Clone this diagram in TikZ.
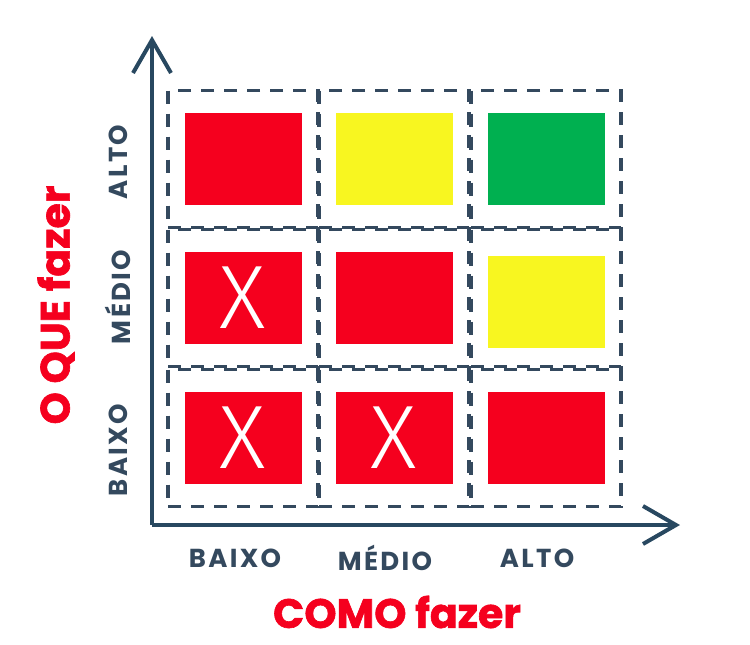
\documentclass[tikz,border=0pt]{standalone}
\usepackage{fontspec}
\setmainfont{Poppins}
\newfontfamily\ticksfont[LetterSpace=9]{Poppins}
\newfontfamily\titlefont[BoldFeatures={FakeBold=1.5}]{Poppins}
\newfontfamily\crossfont{Fira Sans Light}
\definecolor{GridGray}{RGB}{52,73,94}
\definecolor{AxisBlue}{RGB}{40,72,96}
\definecolor{TileRed}{RGB}{245,0,30}
\definecolor{TileYellow}{RGB}{248,246,32}
\definecolor{TileGreen}{RGB}{0,176,80}
\usetikzlibrary{arrows.meta,positioning}

\begin{document}
\begin{tikzpicture}[
    x=1pt, y=-1pt,
    cell/.style={rectangle, draw=GridGray, line width=3.5pt, dash pattern=on 13pt off 10pt, minimum width=150pt, minimum height=137pt, inner sep=0pt},
    tile/.style={rectangle, fill=#1, minimum width=117pt, minimum height=92pt, inner sep=0pt},
    cross/.style={text=white, font=\crossfont\fontsize{90}{90}\selectfont, inner sep=0pt},
    axis/.style={draw=AxisBlue, line width=4pt, -{Straight Barb[length=33pt,width=38pt]}},
    tick/.style={text=GridGray, font=\ticksfont\bfseries\fontsize{26}{26}\selectfont},
    title/.style={text=TileRed, font=\titlefont\bfseries\fontsize{41}{41}\selectfont}
]
    \useasboundingbox (0,0) rectangle (750,645);
    % dashed grid
    \foreach \r/\y in {1/159, 2/298, 3/438}
        \foreach \c/\x in {1/243, 2/394, 3/546}
            \node[cell] (c\r\c) at (\x,\y) {};
    % coloured tiles
    \node[tile=TileRed]    (t11) at (c11) {};
    \node[tile=TileYellow] (t12) at (c12) {};
    \node[tile=TileGreen]  (t13) at (c13) {};
    \node[tile=TileRed]    (t21) at (c21) {};
    \node[tile=TileRed]    (t22) at (c22) {};
    \node[tile=TileYellow] (t23) at ([yshift=-4pt]c23) {};
    \node[tile=TileRed]    (t31) at (c31) {};
    \node[tile=TileRed]    (t32) at (c32) {};
    \node[tile=TileRed]    (t33) at (c33) {};
    \node[cross] (x21) at (t21) {X};
    \node[cross] (x31) at (t31) {X};
    \node[cross] (x32) at (t32) {X};
    % axes
    \coordinate (origin) at (152,525);
    \coordinate (ytip) at (152,36);
    \coordinate (xtip) at (680,525);
    \draw[axis] (origin) -- (ytip);
    \draw[axis] (origin) -- (xtip);
    % axis labels
    \node[tick] (bx) at (235,558) {BAIXO};
    \node[tick] (mx) at (385,558) {MÉDIO};
    \node[tick] (ax) at (537,558) {ALTO};
    \node[tick, rotate=90] (by) at (118,450) {BAIXO};
    \node[tick, rotate=90] (my) at (118,297) {MÉDIO};
    \node[tick, rotate=90] (ay) at (118,162) {ALTO};
    \node[title] (how) at (397,612) {COMO fazer};
    \node[title, rotate=90] (what) at (56,305) {O QUE fazer};
\end{tikzpicture}
\end{document}
